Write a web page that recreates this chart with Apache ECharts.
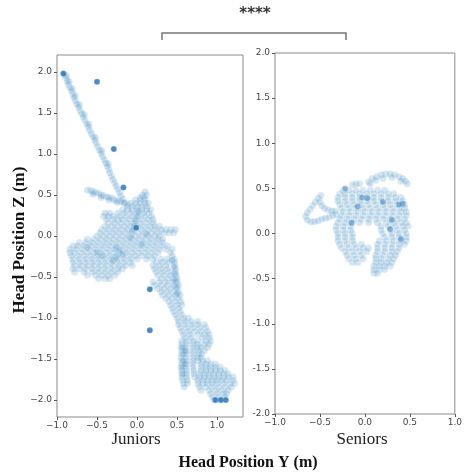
<!DOCTYPE html>
<html>
<head>
<meta charset="utf-8">
<script src="https://cdn.jsdelivr.net/npm/echarts@6/dist/echarts.min.js"></script>
<style>html,body{margin:0;padding:0;background:#fff;}#c{width:465px;height:474px;}</style>
</head>
<body>
<div id="c"></div>
<script>
// ---- data (Head Position Y, Head Position Z) ----
const xTicks = [-1, -0.5, 0, 0.5, 1];
const yTicks = [-2, -1.5, -1, -0.5, 0, 0.5, 1, 1.5, 2];
const groupNames = ['Juniors', 'Seniors'];

// Juniors: long descending strand and left arm
const juniorsLine = [[-0.91,1.97],[-0.89,1.93],[-0.87,1.89],[-0.86,1.85],[-0.84,1.81],[-0.82,1.77],[-0.80,1.73],[-0.79,1.69],[-0.77,1.65],[-0.75,1.61],[-0.73,1.57],[-0.71,1.53],[-0.69,1.49],[-0.67,1.45],[-0.65,1.41],[-0.63,1.37],[-0.61,1.33],[-0.59,1.29],[-0.57,1.25],[-0.55,1.21],[-0.53,1.17],[-0.51,1.13],[-0.49,1.09],[-0.47,1.05],[-0.45,1.01],[-0.43,0.97],[-0.41,0.93],[-0.39,0.89],[-0.37,0.85],[-0.35,0.81],[-0.34,0.77],[-0.32,0.73],[-0.30,0.69],[-0.28,0.65],[-0.26,0.61],[-0.24,0.57],[-0.22,0.53],[-0.20,0.49],[-0.18,0.45],[-0.16,0.41],[-0.88,1.95],[-0.85,1.88],[-0.81,1.80],[-0.77,1.71],[-0.72,1.60],[-0.66,1.48],[-0.60,1.36],[-0.52,1.20],[-0.44,1.04],[-0.36,0.88]];
const juniorsArm = [[-0.62,0.56],[-0.58,0.555],[-0.55,0.54],[-0.52,0.53],[-0.48,0.52],[-0.45,0.50],[-0.42,0.49],[-0.38,0.48],[-0.35,0.47],[-0.31,0.46],[-0.28,0.44],[-0.24,0.43],[-0.20,0.42],[-0.16,0.40],[-0.12,0.39],[-0.55,0.51],[-0.45,0.47],[-0.35,0.44],[-0.25,0.41]];
// Juniors: dense clusters, one row per Z value with the Y values read along it
const juniorsRows = [
  [0.54,[0.10]],
  [0.50,[0.07,0.12]],
  [0.47,[0.04,0.09]],
  [0.44,[-0.02,0.04,0.10]],
  [0.40,[-0.08,-0.02,0.04,0.10,0.14]],
  [0.36,[-0.12,-0.06,0.0,0.06,0.12]],
  [0.32,[-0.18,-0.12,-0.06,0.0,0.06,0.12,0.17]],
  [0.28,[-0.40,-0.34,-0.24,-0.16,-0.08,0.0,0.08,0.15]],
  [0.24,[-0.42,-0.36,-0.30,-0.22,-0.14,-0.06,0.02,0.10,0.18]],
  [0.20,[-0.38,-0.30,-0.24,-0.18,-0.10,-0.02,0.06,0.14,0.20]],
  [0.16,[-0.36,-0.28,-0.20,-0.12,-0.04,0.04,0.12,0.20]],
  [0.12,[-0.40,-0.32,-0.24,-0.16,-0.08,0.0,0.08,0.16,0.22,0.28]],
  [0.08,[-0.44,-0.36,-0.28,-0.20,-0.12,-0.04,0.06,0.14,0.22,0.30,0.36,0.42,0.48]],
  [0.04,[-0.46,-0.38,-0.30,-0.22,-0.14,-0.06,0.02,0.10,0.18,0.26,0.34,0.40,0.46]],
  [0.00,[-0.50,-0.42,-0.34,-0.26,-0.18,-0.10,-0.02,0.06,0.14,0.22,0.28]],
  [-0.04,[-0.62,-0.54,-0.46,-0.38,-0.30,-0.22,-0.14,-0.06,0.02,0.10,0.18,0.26,0.32]],
  [-0.08,[-0.72,-0.64,-0.56,-0.48,-0.40,-0.32,-0.24,-0.16,-0.08,0.0,0.08,0.16,0.24,0.32]],
  [-0.12,[-0.80,-0.74,-0.66,-0.58,-0.50,-0.42,-0.34,-0.26,-0.18,-0.10,-0.02,0.06,0.14,0.22,0.30,0.38]],
  [-0.16,[-0.84,-0.76,-0.68,-0.60,-0.52,-0.44,-0.36,-0.28,-0.20,-0.12,-0.04,0.04,0.12,0.20,0.28,0.36,0.44]],
  [-0.20,[-0.84,-0.78,-0.70,-0.62,-0.54,-0.46,-0.38,-0.30,-0.22,-0.14,-0.06,0.02,0.10,0.18,0.26,0.42]],
  [-0.24,[-0.82,-0.74,-0.66,-0.58,-0.50,-0.42,-0.34,-0.26,-0.18,-0.10,-0.02,0.06,0.14,0.22,0.44]],
  [-0.28,[-0.80,-0.72,-0.64,-0.56,-0.48,-0.40,-0.32,-0.24,-0.16,-0.08,0.0,0.12,0.20,0.30,0.38,0.46]],
  [-0.32,[-0.80,-0.72,-0.64,-0.56,-0.48,-0.40,-0.32,-0.24,-0.16,-0.08,0.24,0.32,0.40,0.47]],
  [-0.36,[-0.78,-0.70,-0.62,-0.54,-0.46,-0.38,-0.30,-0.22,-0.14,-0.06,0.20,0.28,0.36,0.47]],
  [-0.40,[-0.80,-0.72,-0.64,-0.56,-0.48,-0.40,-0.32,-0.24,-0.18,0.22,0.30,0.38,0.48]],
  [-0.44,[-0.78,-0.66,-0.56,-0.48,-0.40,-0.32,-0.24,0.24,0.32,0.40,0.48]],
  [-0.48,[-0.62,-0.52,-0.44,-0.36,-0.28,0.26,0.34,0.42,0.49]],
  [-0.52,[-0.48,-0.40,-0.34,0.30,0.38,0.45,0.50]],
  [-0.56,[0.20,0.28,0.36,0.44,0.50]],
  [-0.60,[0.22,0.30,0.38,0.46,0.52]],
  [-0.64,[0.26,0.34,0.42,0.50]],
  [-0.68,[0.30,0.38,0.46,0.52]],
  [-0.72,[0.32,0.40,0.48,0.54]],
  [-0.76,[0.36,0.44,0.52]],
  [-0.80,[0.40,0.48,0.55]],
  [-0.84,[0.42,0.50,0.56]],
  [-0.88,[0.44,0.52]],
  [-0.92,[0.46,0.54]],
  [-0.96,[0.48,0.56]],
  [-1.00,[0.50,0.58,0.64]],
  [-1.04,[0.52,0.60,0.68,0.76]],
  [-1.08,[0.52,0.60,0.68,0.76,0.84]],
  [-1.12,[0.54,0.62,0.70,0.78,0.86]],
  [-1.16,[0.56,0.64,0.72,0.80,0.88]],
  [-1.20,[0.58,0.66,0.76,0.84,0.90]],
  [-1.24,[0.60,0.68,0.82,0.90]],
  [-1.28,[0.56,0.62,0.70,0.76,0.86,0.92]],
  [-1.32,[0.56,0.62,0.70,0.76,0.84,0.90]],
  [-1.36,[0.55,0.61,0.70,0.76,0.80,0.88]],
  [-1.40,[0.56,0.62,0.70,0.77,0.84]],
  [-1.44,[0.56,0.62,0.70,0.77,0.81]],
  [-1.48,[0.55,0.61,0.70,0.76,0.80]],
  [-1.52,[0.56,0.62,0.70,0.76,0.82,0.88]],
  [-1.56,[0.56,0.62,0.70,0.80,0.86,0.92,0.98]],
  [-1.60,[0.55,0.61,0.70,0.80,0.86,0.92,0.98,1.04]],
  [-1.64,[0.56,0.62,0.71,0.80,0.86,0.92,0.98,1.04,1.10]],
  [-1.68,[0.56,0.62,0.71,0.78,0.84,0.90,0.96,1.02,1.08,1.14]],
  [-1.72,[0.56,0.62,0.72,0.78,0.84,0.90,0.96,1.02,1.08,1.14,1.20]],
  [-1.76,[0.57,0.63,0.76,0.82,0.88,0.94,1.00,1.06,1.12,1.20]],
  [-1.80,[0.58,0.63,0.76,0.82,0.88,0.94,1.00,1.08,1.16,1.22]],
  [-1.84,[0.59,0.78,0.86,0.94,1.02,1.10,1.18]],
  [-1.88,[0.80,0.90,0.98,1.06,1.14]],
  [-1.92,[0.92,1.00,1.08,1.12]],
  [-1.96,[0.94,1.02,1.10]],
  [-2.00,[0.96,1.04]]
];
// Juniors: denser strands inside the clusters
const juniorsStrands = [[0.02,0.30],[0.0,0.24],[-0.02,0.18],[-0.04,0.12],[-0.06,0.06],[-0.26,-0.14],[-0.22,-0.18],[-0.18,-0.22],[-0.30,-0.30],[-0.26,-0.26],[-0.50,-0.20],[-0.44,-0.24],[-0.62,-0.14],[0.44,-0.30],[0.46,-0.38],[0.47,-0.46],[0.48,-0.54],[0.49,-0.62],[0.50,-0.70],[0.57,-1.36],[0.58,-1.44],[0.58,-1.52],[0.57,-1.60],[0.58,-1.68],[0.60,-1.56],[0.60,-1.40],[0.12,0.02],[0.06,-0.10],[-0.08,-0.02]];
const juniorsSolid = [[-0.92,1.98],[-0.50,1.88],[-0.29,1.06],[-0.17,0.59],[-0.01,0.10],[0.16,-0.65],[0.16,-1.15],[0.98,-2.0],[1.05,-2.0],[1.11,-2.0]];

// Seniors
const seniorsLoop = [[-0.52,0.39],[-0.55,0.35],[-0.58,0.31],[-0.61,0.27],[-0.64,0.23],[-0.66,0.19],[-0.64,0.15],[-0.60,0.13],[-0.56,0.13],[-0.52,0.14],[-0.48,0.16],[-0.44,0.17],[-0.40,0.18],[-0.36,0.20],[-0.32,0.21],[-0.50,0.35],[-0.48,0.31],[-0.45,0.28],[-0.41,0.26],[-0.37,0.25],[-0.33,0.25],[-0.49,0.42],[-0.14,0.54],[-0.10,0.55],[-0.06,0.55]];
const seniorsArc = [[0.04,0.57],[0.08,0.61],[0.13,0.63],[0.18,0.65],[0.23,0.66],[0.28,0.66],[0.33,0.65],[0.38,0.63],[0.42,0.61],[0.45,0.58],[0.47,0.55],[0.06,0.55],[0.12,0.59],[0.20,0.61],[0.30,0.62],[0.40,0.58]];
const seniorsRows = [
  [0.48,[-0.24,-0.18,-0.10,-0.02,0.06,0.14,0.22]],
  [0.44,[-0.28,-0.22,-0.14,-0.06,0.02,0.10,0.18,0.26,0.32]],
  [0.40,[-0.30,-0.22,-0.14,-0.06,0.02,0.10,0.18,0.26,0.34,0.40]],
  [0.36,[-0.30,-0.22,-0.14,-0.06,0.02,0.10,0.18,0.26,0.34,0.42]],
  [0.32,[-0.28,-0.20,-0.12,-0.04,0.04,0.12,0.20,0.28,0.36,0.44]],
  [0.28,[-0.26,-0.18,-0.10,-0.02,0.06,0.14,0.22,0.30,0.38,0.44]],
  [0.24,[-0.24,-0.16,-0.08,0.0,0.08,0.16,0.24,0.32,0.40,0.46]],
  [0.20,[-0.26,-0.18,-0.10,-0.02,0.06,0.14,0.22,0.30,0.38,0.46]],
  [0.16,[-0.28,-0.20,-0.12,-0.04,0.04,0.12,0.20,0.28,0.36,0.44]],
  [0.12,[-0.30,-0.22,-0.14,-0.06,0.04,0.14,0.24,0.32,0.40,0.46]],
  [0.08,[-0.32,-0.24,-0.16,0.18,0.26,0.34,0.42,0.48]],
  [0.04,[-0.32,-0.24,-0.16,0.18,0.28,0.36,0.44]],
  [0.00,[-0.30,-0.22,-0.14,0.20,0.30,0.38,0.46]],
  [-0.04,[-0.30,-0.22,-0.14,0.22,0.30,0.38,0.46]],
  [-0.08,[-0.30,-0.22,-0.14,0.16,0.24,0.32,0.40,0.46]],
  [-0.12,[-0.28,-0.20,-0.12,-0.04,0.14,0.22,0.30,0.38,0.44]],
  [-0.16,[-0.26,-0.18,-0.10,-0.02,0.04,0.14,0.22,0.30,0.38]],
  [-0.20,[-0.22,-0.14,-0.06,0.02,0.14,0.22,0.30,0.36]],
  [-0.24,[-0.20,-0.12,-0.04,0.12,0.20,0.28,0.34]],
  [-0.28,[-0.18,-0.10,-0.02,0.12,0.18,0.26,0.32]],
  [-0.32,[-0.14,-0.08,0.12,0.18,0.24,0.30]],
  [-0.36,[0.10,0.16,0.22,0.28]],
  [-0.40,[0.10,0.16,0.22]],
  [-0.44,[0.10,0.14]]
];
const seniorsDark = [[-0.03,0.40],[0.03,0.39],[-0.22,0.50],[0.40,-0.06],[0.42,0.33],[0.38,0.32],[-0.08,0.30],[0.30,0.15],[0.20,0.35],[-0.15,0.12],[0.28,0.05]];

// ---- build series data from the arrays above ----
const fromRows = rows => rows.flatMap(([z, ys]) => ys.map(y => [y, z]));
const juniorsLight = juniorsLine.concat(juniorsArm, fromRows(juniorsRows), juniorsStrands);
const seniorsLight = seniorsLoop.concat(seniorsArc, fromRows(seniorsRows));

const fmt = (minus) => v => {
  const s = Number(v).toFixed(1);
  return v < 0 ? minus + s.slice(1) : s;
};
const tickLabel = {fontSize: 9, color: '#444', fontFamily: 'DejaVu Sans', margin: 5};
const lightStyle = {color: 'rgba(31,119,180,0.22)', borderColor: 'rgba(255,255,255,0.3)', borderWidth: 0.6};
const noLine = {show: false, onZero: false};
const tick = (vals) => ({show: true, length: 3, lineStyle: {color: '#555'}, customValues: vals});

const chart = echarts.init(document.getElementById('c'), null, {renderer: 'canvas'});
chart.setOption({
  animation: false,
  backgroundColor: '#fff',
  grid: [
    {left: 57, top: 55, width: 186, height: 362, show: true, borderColor: '#8a8a8a', borderWidth: 1, backgroundColor: '#fff'},
    {left: 275, top: 53, width: 186, height: 361, show: true, borderColor: '#8a8a8a', borderWidth: 1, backgroundColor: '#fff'}
  ],
  xAxis: [
    {gridIndex: 0, type: 'value', min: -1.0, max: 1.325, splitLine: {show: false}, axisLine: noLine, axisTick: tick(xTicks),
     axisLabel: Object.assign({customValues: xTicks, formatter: fmt('\u2212')}, tickLabel, {margin: 4})},
    {gridIndex: 1, type: 'value', min: -1.0, max: 1.0, splitLine: {show: false}, axisLine: noLine, axisTick: tick(xTicks),
     axisLabel: Object.assign({customValues: xTicks, formatter: fmt('\u2212')}, tickLabel, {margin: 4})}
  ],
  yAxis: [
    {gridIndex: 0, type: 'value', min: -2.207, max: 2.207, splitLine: {show: false}, axisLine: noLine, axisTick: tick(yTicks),
     axisLabel: Object.assign({customValues: yTicks, formatter: fmt('\u2212')}, tickLabel)},
    {gridIndex: 1, type: 'value', min: -2.0, max: 2.0, splitLine: {show: false}, axisLine: noLine, axisTick: tick(yTicks),
     axisLabel: Object.assign({customValues: yTicks, formatter: fmt('-')}, tickLabel)}
  ],
  series: [
    {name: 'Juniors', type: 'scatter', xAxisIndex: 0, yAxisIndex: 0, symbolSize: 7, data: juniorsLight, itemStyle: lightStyle},
    {name: 'Juniors outliers', type: 'scatter', xAxisIndex: 0, yAxisIndex: 0, symbolSize: 6, data: juniorsSolid,
     itemStyle: {color: '#1f6db0', borderColor: 'rgba(255,255,255,0.6)', borderWidth: 0.5}},
    {name: 'Seniors', type: 'scatter', xAxisIndex: 1, yAxisIndex: 1, symbolSize: 7, data: seniorsLight, itemStyle: lightStyle},
    {name: 'Seniors dense', type: 'scatter', xAxisIndex: 1, yAxisIndex: 1, symbolSize: 6, data: seniorsDark,
     itemStyle: {color: 'rgba(31,109,176,0.55)', borderColor: 'rgba(255,255,255,0.4)', borderWidth: 0.5}}
  ],
  graphic: [
    {type: 'text', x: 255, y: 14, style: {text: '****', fontSize: 15, fontWeight: 'bold', fontFamily: 'DejaVu Sans', fill: '#333', align: 'center', verticalAlign: 'middle'}},
    {type: 'polyline', shape: {points: [[162, 40], [162, 33], [346, 33], [346, 40]]}, style: {stroke: '#777', lineWidth: 1.5, fill: null}},
    {type: 'text', x: 20, y: 240, rotation: Math.PI / 2, style: {text: 'Head Position Z (m)', fontSize: 17, fontWeight: 'bold', fontFamily: 'Liberation Serif', fill: '#111', align: 'center', verticalAlign: 'middle'}},
    {type: 'text', x: 136, y: 440, style: {text: groupNames[0], fontSize: 17, fontFamily: 'Liberation Serif', fill: '#222', align: 'center', verticalAlign: 'middle'}},
    {type: 'text', x: 362, y: 440, style: {text: groupNames[1], fontSize: 17, fontFamily: 'Liberation Serif', fill: '#222', align: 'center', verticalAlign: 'middle'}},
    {type: 'text', x: 248, y: 463, style: {text: 'Head Position Y (m)', fontSize: 16, fontWeight: 'bold', fontFamily: 'Liberation Serif', fill: '#111', align: 'center', verticalAlign: 'middle'}}
  ]
});
</script>
</body>
</html>
